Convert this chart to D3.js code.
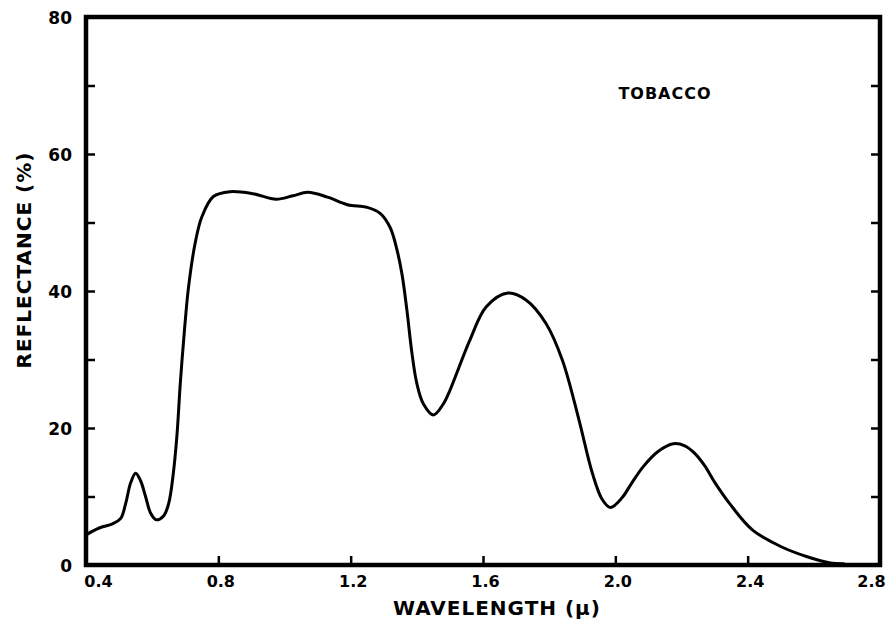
<!DOCTYPE html>
<html>
<head>
<meta charset="utf-8">
<script src="https://cdn.jsdelivr.net/npm/d3@7/dist/d3.min.js"></script>
<style>
  html, body { margin: 0; padding: 0; background: #fff; }
  svg { display: block; }
  text { font-family: "DejaVu Sans", sans-serif; fill: #000; }
</style>
</head>
<body>
<svg id="chart" width="890" height="625"></svg>
<script>
// Spectral reflectance of tobacco leaf
const wavelength = [0.40, 0.44, 0.48, 0.505, 0.52, 0.535, 0.55, 0.565, 0.58, 0.595, 0.612,
  0.635, 0.65, 0.663, 0.675, 0.685, 0.698, 0.71, 0.73, 0.75, 0.785, 0.835, 0.905, 0.975,
  1.025, 1.07, 1.13, 1.19, 1.25, 1.29, 1.32, 1.34, 1.355, 1.37, 1.385, 1.40, 1.42, 1.45,
  1.48, 1.50, 1.56, 1.61, 1.675, 1.73, 1.79, 1.84, 1.89, 1.93, 1.96, 1.985, 2.02, 2.05,
  2.085, 2.13, 2.175, 2.21, 2.24, 2.27, 2.30, 2.345, 2.415, 2.50, 2.58, 2.65, 2.69];
const reflectance = [4.4, 5.4, 6.0, 6.8, 9.0, 12.0, 13.4, 12.3, 10.0, 7.6, 6.6,
  7.2, 9.0, 13.0, 19.0, 26.5, 34.5, 40.6, 47.0, 50.8, 53.8, 54.5, 54.2, 53.4,
  53.9, 54.4, 53.7, 52.6, 52.2, 51.3, 49.2, 46.0, 42.5, 37.2, 31.0, 26.5, 23.5, 21.9,
  23.5, 25.5, 32.8, 37.7, 39.7, 38.7, 35.3, 29.9, 21.2, 13.5, 9.6, 8.4, 9.8, 12.0,
  14.4, 16.6, 17.7, 17.4, 16.3, 14.5, 12.1, 9.0, 5.1, 2.7, 1.2, 0.3, 0.2];

const xTicks = [0.4, 0.8, 1.2, 1.6, 2.0, 2.4, 2.8];
const xTickLabels = ["0.4", "0.8", "1.2", "1.6", "2.0", "2.4", "2.8"];
const yMajorTicks = [0, 20, 40, 60, 80];
const yMinorTicks = [10, 30, 50, 70];
const sampleName = "TOBACCO";
const xTitle = "WAVELENGTH (\u03BC)";
const yTitle = "REFLECTANCE (%)";

const plotLeft = 86, plotRight = 880, plotTop = 17, plotBottom = 565;
const svg = d3.select("#chart");

const x = d3.scaleLinear().domain([0.4, 2.8]).range([plotLeft, plotRight]);
const y = d3.scaleLinear().domain([0, 80]).range([plotBottom, plotTop]);

// Inward tick marks on left, right and bottom
const tickLen = 9;
const leftAxis = svg.append("g").attr("transform", `translate(${plotLeft},0)`)
  .call(d3.axisLeft(y).tickValues(yMajorTicks.concat(yMinorTicks)).tickSize(-tickLen)
    .tickPadding(14).tickFormat(d => yMajorTicks.includes(d) ? d : ""));
leftAxis.select(".domain").remove();
leftAxis.selectAll("line").attr("stroke", "#000").attr("stroke-width", 2.5);
leftAxis.selectAll("text").style("font-size", "17px").style("font-weight", "bold")
  .attr("dy", "0.36em");

const rightAxis = svg.append("g").attr("transform", `translate(${plotRight},0)`)
  .call(d3.axisRight(y).tickValues(yMajorTicks.slice(1, 4).concat(yMinorTicks)).tickSize(-tickLen).tickFormat(""));
rightAxis.select(".domain").remove();
rightAxis.selectAll("line").attr("stroke", "#000").attr("stroke-width", 2.5);

const bottomAxis = svg.append("g").attr("transform", `translate(0,${plotBottom})`)
  .call(d3.axisBottom(x).tickValues(xTicks).tickSize(-tickLen).tickPadding(11)
    .tickFormat((d, i) => xTickLabels[i]));
bottomAxis.select(".domain").remove();
bottomAxis.selectAll("line").attr("stroke", "#000").attr("stroke-width", 2.5)
  .filter(d => d === 0.4 || d === 2.8).remove();
bottomAxis.selectAll("text").style("font-size", "16px").style("font-weight", "bold")
  .attr("dx", d => d === 0.4 ? 12 : (d === 2.8 ? -9 : 2));

// Frame
svg.append("rect")
  .attr("x", plotLeft).attr("y", plotTop)
  .attr("width", plotRight - plotLeft).attr("height", plotBottom - plotTop)
  .attr("fill", "none").attr("stroke", "#000").attr("stroke-width", 4.5);

// Reflectance curve
const pts = wavelength.map((w, i) => [w, reflectance[i]]);
svg.append("path")
  .datum(pts)
  .attr("fill", "none")
  .attr("stroke", "#000")
  .attr("stroke-width", 3)
  .attr("stroke-linejoin", "round")
  .attr("stroke-linecap", "round")
  .attr("d", d3.line().x(d => x(d[0])).y(d => y(d[1])).curve(d3.curveCatmullRom.alpha(0.5)));

// Sample label
svg.append("text")
  .attr("x", 665).attr("y", 99)
  .attr("text-anchor", "middle")
  .style("font-size", "16px").style("font-weight", "bold")
  .style("letter-spacing", "1px")
  .text(sampleName);

// Axis titles
svg.append("text")
  .attr("x", 497).attr("y", 615)
  .attr("text-anchor", "middle")
  .style("font-size", "20px").style("font-weight", "bold")
  .style("letter-spacing", "1px")
  .text(xTitle);

svg.append("text")
  .attr("transform", "translate(31,260) rotate(-90)")
  .attr("text-anchor", "middle")
  .style("font-size", "20px").style("font-weight", "bold")
  .style("letter-spacing", "1px")
  .text(yTitle);
</script>
</body>
</html>
